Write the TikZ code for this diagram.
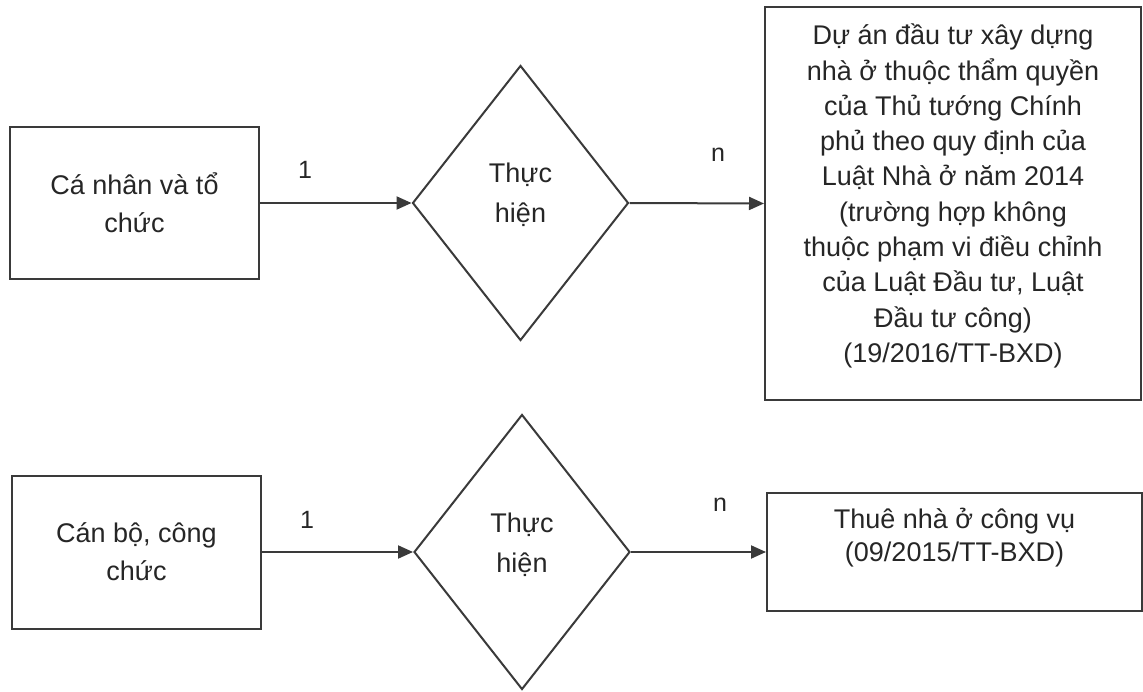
\documentclass[tikz,border=0pt]{standalone}
\usepackage{fontspec}
\setmainfont{Liberation Sans}
\usetikzlibrary{shapes.geometric,arrows.meta}
\definecolor{ln}{HTML}{3A3A3A}
\definecolor{tx}{HTML}{262626}
\begin{document}
\begin{tikzpicture}[x=1pt,y=-1pt,
  box/.style={draw=ln,line width=2pt,inner sep=0pt,text=tx,align=center,font=\fontsize{27}{38}\selectfont},
  dia/.style={draw=ln,line width=2pt,diamond,inner sep=0pt,minimum width=216pt,minimum height=275pt},
  txt/.style={text=tx,align=center,inner sep=0pt},
  lbl/.style={text=tx,font=\fontsize{25}{30}\selectfont,inner sep=0pt},
  arr/.style={draw=ln,line width=2pt,-{Triangle[length=15pt,width=13pt]}}]
\useasboundingbox (0,0) rectangle (1143,692);
\fill[white] (0,0) rectangle (1143,692);

% top row
\node[box,minimum width=249pt,minimum height=152pt] (b1) at (134.5,203) {Cá nhân và tổ\\chức};
\node[dia] (d1) at (520.5,203) {};
\node[txt,font=\fontsize{27}{40}\selectfont] (t1) at (520.5,195) {Thực\\hiện};
\node[box,minimum width=376pt,minimum height=393pt] (r1) at (953,203.5) {};
\node[txt,font=\fontsize{27}{35.3}\selectfont] (rt1) at (953,196) {Dự án đầu tư xây dựng\\nhà ở thuộc thẩm quyền\\của Thủ tướng Chính\\phủ theo quy định của\\Luật Nhà ở năm 2014\\(trường hợp không\\thuộc phạm vi điều chỉnh\\của Luật Đầu tư, Luật\\Đầu tư công)\\(19/2016/TT-BXD)};
\draw[arr] (b1.east) -- (d1.west);
\draw[arr] (d1.east) -- (r1.west);
\node[lbl] (l1) at (305,170) {1};
\node[lbl] (n1) at (718,155) {n};

% bottom row
\node[box,minimum width=249pt,minimum height=153pt] (b2) at (136.5,552) {Cán bộ, công\\chức};
\node[dia] (d2) at (522,552) {};
\node[txt,font=\fontsize{27}{40}\selectfont] (t2) at (522,545) {Thực\\hiện};
\node[box,minimum width=375pt,minimum height=118pt] (r2) at (954.5,552) {};
\node[txt,font=\fontsize{27}{33}\selectfont] (rt2) at (954.5,538) {Thuê nhà ở công vụ\\(09/2015/TT-BXD)};
\draw[arr] (b2.east) -- (d2.west);
\draw[arr] (d2.east) -- (r2.west);
\node[lbl] (l2) at (307,520) {1};
\node[lbl] (n2) at (720,505) {n};
\end{tikzpicture}
\end{document}
